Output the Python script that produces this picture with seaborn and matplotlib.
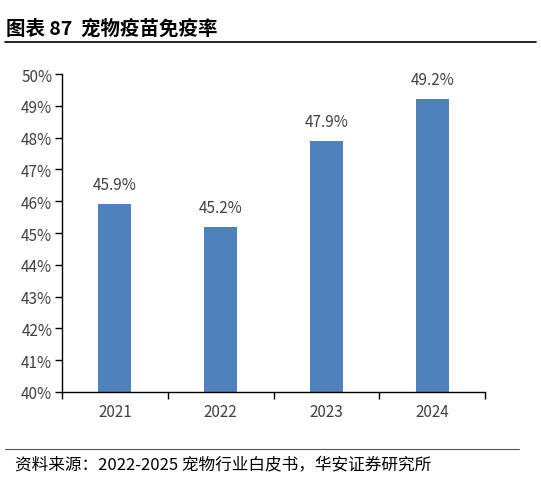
import matplotlib
matplotlib.use('Agg')
import matplotlib.pyplot as plt
import pandas as pd
import seaborn as sns
from matplotlib.ticker import FuncFormatter

years = ["2021", "2022", "2023", "2024"]
rates = [45.9, 45.2, 47.9, 49.2]
title = "图表 87  宠物疫苗免疫率"
source = "资料来源：2022-2025 宠物行业白皮书，华安证券研究所"

sns.set_theme(style="white")
plt.rcParams['font.family'] = ['Noto Sans CJK SC', 'DejaVu Sans']

df = pd.DataFrame({"year": years, "rate": rates})

fig = plt.figure(figsize=(5.41, 4.81), dpi=100)
ax = fig.add_axes([0.1146, 0.183, 0.782, 0.661])
sns.barplot(data=df, x="year", y="rate", color="#4F81BD", saturation=1, width=0.31,
            linewidth=0, ax=ax)

ax.set_ylim(40, 50)
ax.set_yticks(range(40, 51))
ax.yaxis.set_major_formatter(FuncFormatter(lambda v, p: "%d%%" % v))
ax.set_xlim(-0.5, len(years) - 0.5)
ax.set_xlabel("")
ax.set_ylabel("")
for side in ["top", "right"]:
    ax.spines[side].set_visible(False)
for side in ["left", "bottom"]:
    ax.spines[side].set_color("#000000")
    ax.spines[side].set_linewidth(1.0)

# x ticks sit on category boundaries
ax.set_xticks([i - 0.5 for i in range(len(years) + 1)], minor=True)
ax.tick_params(axis="x", which="minor", direction="out", length=5, width=1, color="black", bottom=True)
ax.tick_params(axis="x", which="major", length=0, labelsize=11, labelcolor="#404040", pad=8)
ax.tick_params(axis="y", direction="out", length=5, width=1, color="black", left=True,
               labelsize=11, labelcolor="#404040", pad=2)

for i, v in enumerate(rates):
    ax.text(i, v + 0.35, "%.1f%%" % v, ha="center", va="bottom", fontsize=11, color="#404040")

fig.text(0.012, 0.94, title, fontsize=14, fontweight="bold", color="black", va="center")
fig.add_artist(plt.Line2D([0.01, 0.99], [0.91, 0.91], color="black", linewidth=1.2, transform=fig.transFigure))
fig.add_artist(plt.Line2D([0.01, 0.96], [0.064, 0.064], color="#555555", linewidth=0.8, transform=fig.transFigure))
fig.text(0.028, 0.033, source, fontsize=12, color="black", va="center")

fig.savefig("out.png", dpi=100)
